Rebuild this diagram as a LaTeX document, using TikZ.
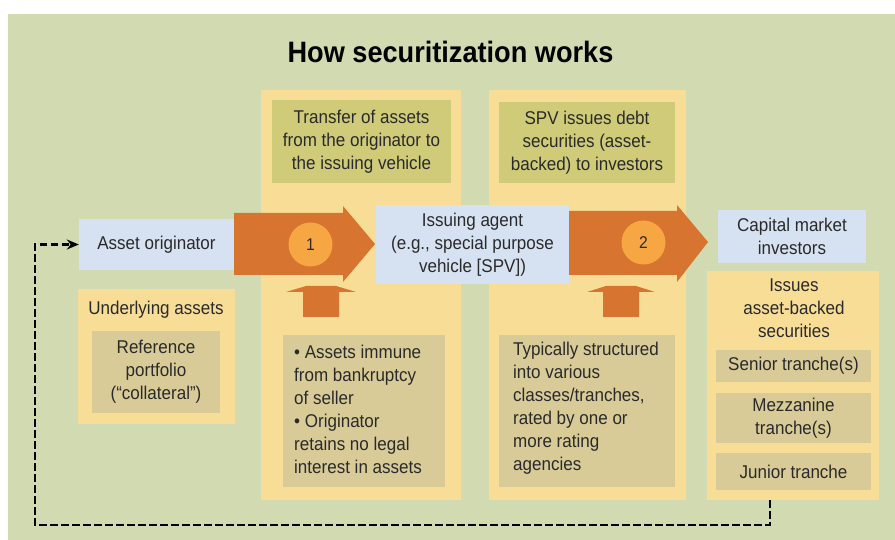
\documentclass[tikz,border=0pt]{standalone}
\usepackage{fontspec}
\setmainfont[FakeStretch=0.92]{Liberation Sans}
\usetikzlibrary{arrows.meta}
\definecolor{bggreen}{HTML}{D1DAB0}
\definecolor{panelyel}{HTML}{F8DD96}
\definecolor{olive}{HTML}{CFCB79}
\definecolor{tan}{HTML}{D8CB98}
\definecolor{ltblue}{HTML}{D6E2F2}
\definecolor{arrorange}{HTML}{D67430}
\definecolor{circorange}{HTML}{F6A642}
\definecolor{txtc}{HTML}{2A2A2A}
\tikzset{
  txt/.style={text=txtc, font=\fontsize{18.5}{23}\selectfont, inner sep=0pt, align=center},
  bigarrow/.style={fill=arrorange, draw=none},
  numcirc/.style={circle, fill=circorange, minimum size=44pt, inner sep=0pt, text=txtc, font=\fontsize{17}{18}\selectfont},
  loopline/.style={draw=black, line width=2.8pt, dash pattern=on 7.5pt off 3.5pt, -{Stealth[length=12pt,width=10pt]}},
}
\newcommand\tbox[7]{\node[txt, fill=#6, minimum width={#4-#2}, minimum height={#5-#3}] (#1) at ({(#2+#4)/2},{(#3+#5)/2}) {#7};}
\begin{document}
\begin{tikzpicture}[x=1pt,y=-1pt]
\useasboundingbox (0,0) rectangle (895,540);
% background
\fill[bggreen] (8,14) rectangle (895,540);
% title
\node[anchor=base, inner sep=0pt, text=black, font=\fontsize{29.5}{32}\selectfont\bfseries] (title) at (450.5,63) {How securitization works};
% panels
\tbox{p1}{261}{90}{461}{500}{panelyel}{}
\tbox{p2}{489}{90}{686}{500}{panelyel}{}
\tbox{rp}{707}{271}{879}{500}{panelyel}{}
\tbox{ua}{78}{289}{235}{424}{panelyel}{}
% olive headers
\tbox{o1}{272}{100}{451}{183}{olive}{Transfer of assets\\from the originator to\\the issuing vehicle}
\tbox{o2}{499}{102}{675}{183}{olive}{SPV issues debt\\securities (asset-\\backed) to investors}
% big arrows
\fill[bigarrow] (234,213) -- (343,213) -- (343,206) -- (375,244) -- (343,282) -- (343,275) -- (234,275) -- cycle;
\fill[bigarrow] (569,211) -- (677,211) -- (677,205) -- (708,242) -- (677,282) -- (677,275) -- (569,275) -- cycle;
% blue boxes
\tbox{orig}{79}{219}{234}{270}{ltblue}{Asset originator}
\tbox{spv}{376}{205}{569}{284}{ltblue}{Issuing agent\\(e.g., special purpose\\vehicle [SPV])}
\tbox{cap}{718}{210}{866}{263}{ltblue}{Capital market\\investors}
% circles
\node[numcirc] (c1) at (310.5,244.5) {1};
\node[numcirc] (c2) at (643.5,242.5) {2};
% up arrows
\fill[bigarrow] (303,317) -- (303,292) -- (286,292) -- (306,286) -- (336,286) -- (356,292) -- (339,292) -- (339,317) -- cycle;
\fill[bigarrow] (603,317) -- (603,292) -- (587,292) -- (606,286) -- (636,286) -- (655,292) -- (639,292) -- (639,317) -- cycle;
% tan boxes
\tbox{t1}{283}{335}{445}{487}{tan}{}
\tbox{t2}{499}{335}{675}{487}{tan}{}
\node[txt, align=left, anchor=west] (t1txt) at (294,409) {• Assets immune\\from bankruptcy\\of seller\\• Originator\\retains no legal\\interest in assets};
\node[txt, align=left, anchor=west] (t2txt) at (513,408.5) {Typically structured\\into various\\classes/tranches,\\rated by one or\\more rating\\agencies};
% underlying assets
\node[txt] (uatxt) at (156,310) {Underlying assets};
\tbox{ref}{92}{331}{220}{413}{tan}{Reference\\portfolio\\(“collateral”)}
% right panel
\node[txt] (rptxt) at (794,308.5) {Issues\\asset-backed\\securities};
\tbox{sen}{716}{350}{871}{382}{tan}{Senior tranche(s)}
\tbox{mez}{716}{393}{871}{443}{tan}{Mezzanine\\tranche(s)}
\tbox{jun}{716}{453}{871}{490}{tan}{Junior tranche}
% dashed loop
\coordinate (dx) at (770,525);
\coordinate (dl) at (35,525);
\draw[loopline] (rp.south -| dx) -- (dx) -- (dl) -- (dl |- orig.west) -- (orig.west);
\end{tikzpicture}
\end{document}
